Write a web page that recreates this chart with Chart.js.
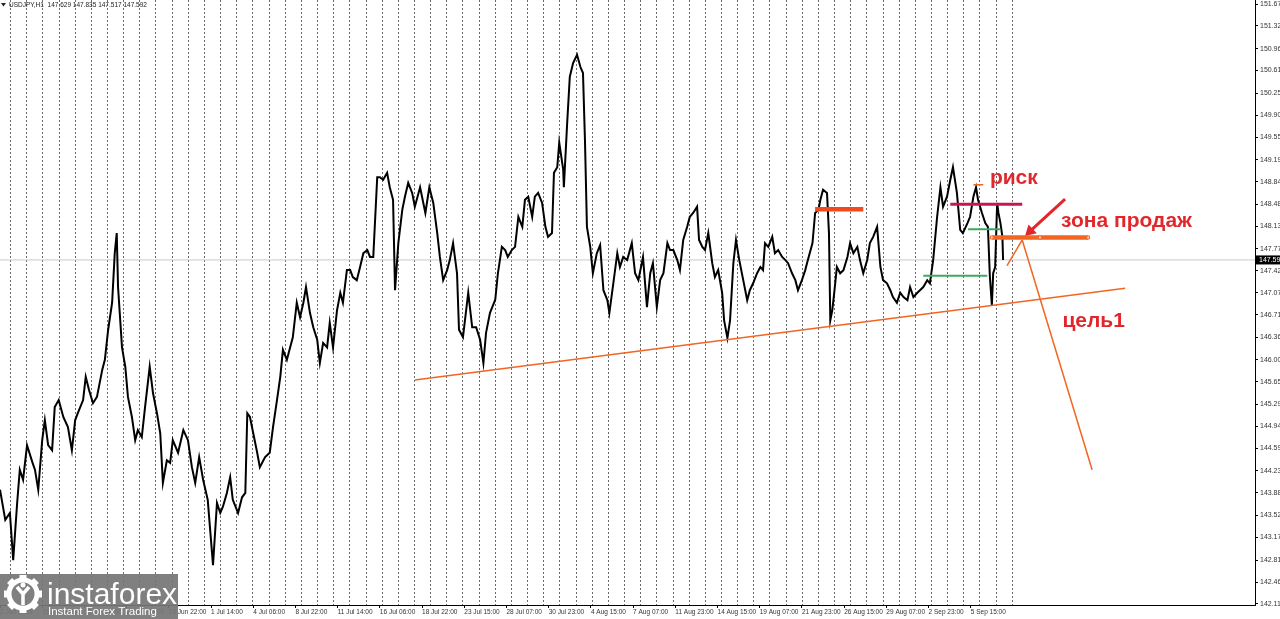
<!DOCTYPE html>
<html>
<head>
<meta charset="utf-8">
<script src="https://cdn.jsdelivr.net/npm/chart.js@4.4.1/dist/chart.umd.min.js"></script>
<style>
  html, body { margin: 0; padding: 0; background: #fff; overflow: hidden; }
  canvas { display: block; }
</style>
</head>
<body>
<canvas id="chart" width="1280" height="619"></canvas>
<script>
// USDJPY H1 — sell-zone sketch

// ── Header / quote ─────────────────────────────────────────────────────────────
const SYMBOL = 'USDJPY,H1';
const OHLC = [147.629, 147.835, 147.517, 147.592];
const LAST_PRICE = 147.592;

// ── Axes ───────────────────────────────────────────────────────────────────────
const BAR_MIN = 0, BAR_MAX = 1903;          // hourly bar index
const PRICE_MIN = 142.094, PRICE_MAX = 151.734;

const xLabels = [
  '2 Jun 2025', '16 Jun 22:00', '19 Jun 14:00', '24 Jun 06:00', '26 Jun 22:00',
  '1 Jul 14:00', '4 Jul 06:00', '8 Jul 22:00', '11 Jul 14:00', '16 Jul 06:00',
  '18 Jul 22:00', '23 Jul 15:00', '28 Jul 07:00', '30 Jul 23:00', '4 Aug 15:00',
  '7 Aug 07:00', '11 Aug 23:00', '14 Aug 15:00', '19 Aug 07:00', '21 Aug 23:00',
  '26 Aug 15:00', '29 Aug 07:00', '2 Sep 23:00', '5 Sep 15:00',
];
const BARS_PER_LABEL = 64;
const BARS_PER_DAY_GRID = 24.5;
const DAY_GRID_START = 16;
const DAY_GRID_COUNT = 63;

const yTicks = [
  151.670, 151.320, 150.960, 150.610, 150.250, 149.900, 149.550, 149.190,
  148.840, 148.480, 148.130, 147.770, 147.420, 147.070, 146.715, 146.360,
  146.000, 145.650, 145.290, 144.940, 144.590, 144.230, 143.880, 143.520,
  143.170, 142.810, 142.460, 142.110,
];

// ── Price path (bar index → close) ─────────────────────────────────────────────
const barIdx = [
  0, 8, 15, 20, 26, 30, 35, 41, 49, 53, 58, 64, 68, 73, 79, 83, 89, 96, 103, 109,
  114, 118, 126, 130, 135, 141, 147, 155, 159, 164, 170, 174, 177, 179, 185, 190, 194, 200, 205, 209,
  215, 220, 227, 232, 238, 243, 247, 253, 258, 262, 270, 278, 285, 291, 296, 302, 308, 315, 323, 329,
  334, 338, 344, 349, 353, 361, 367, 372, 375, 379, 384, 390, 394, 402, 409, 414, 420, 425, 429, 435,
  440, 444, 450, 455, 460, 464, 470, 475, 481, 485, 490, 496, 500, 505, 511, 516, 520, 526, 531, 535,
  541, 546, 551, 557, 561, 566, 572, 576, 581, 587, 591, 596, 599, 604, 610, 614, 619, 625, 629, 637,
  645, 651, 657, 663, 667, 672, 678, 682, 687, 693, 696, 702, 710, 716, 722, 728, 733, 737, 743, 751,
  755, 761, 766, 770, 776, 781, 786, 792, 796, 801, 807, 811, 816, 822, 827, 831, 837, 840, 845, 848,
  854, 855, 860, 864, 869, 875, 880, 884, 887, 890, 895, 899, 905, 910, 915, 921, 924, 930, 936, 940,
  945, 951, 958, 963, 968, 975, 981, 986, 990, 996, 1001, 1006, 1012, 1016, 1021, 1027, 1031, 1036, 1042, 1046,
  1051, 1057, 1060, 1065, 1069, 1074, 1080, 1084, 1089, 1095, 1098, 1103, 1107, 1112, 1116, 1121, 1127, 1133, 1137, 1142,
  1148, 1153, 1157, 1160, 1165, 1171, 1175, 1180, 1186, 1191, 1195, 1201, 1206, 1210, 1216, 1221, 1225, 1232, 1236, 1241,
  1244, 1248, 1254, 1257, 1259, 1262, 1265, 1269, 1274, 1279, 1285, 1289, 1294, 1300, 1304, 1309, 1315, 1319, 1324, 1330,
  1335, 1339, 1345, 1350, 1354, 1360, 1365, 1370, 1376, 1380, 1385, 1391, 1395, 1400, 1406, 1410, 1415, 1421, 1426, 1430,
  1436, 1441, 1445, 1451, 1456, 1460, 1467, 1471, 1476, 1480, 1483, 1489, 1494, 1498, 1501, 1504, 1506, 1509, 1512, 1514,
  1517, 1520, 1521,
];
const closes = [
  143.93, 143.45, 143.56, 142.81, 143.72, 144.25, 144.09, 144.64, 144.37, 144.25, 143.93, 144.72, 145.04, 144.64, 144.56, 145.25, 145.36, 145.09, 144.93, 144.56,
  145.04, 145.15, 145.36, 145.73, 145.52, 145.31, 145.41, 145.84, 146.00, 146.48, 146.91, 147.70, 148.02, 147.16, 146.20, 145.89, 145.41, 145.09, 144.72, 144.88,
  144.77, 145.25, 145.89, 145.47, 145.15, 144.83, 144.04, 144.40, 144.36, 144.72, 144.52, 144.88, 144.72, 144.29, 144.04, 144.45, 144.09, 143.77, 142.73, 143.72,
  143.56, 143.66, 143.88, 144.13, 143.77, 143.56, 143.81, 143.88, 145.15, 145.09, 144.83, 144.52, 144.29, 144.45, 144.52, 144.93, 145.36, 145.73, 146.16, 146.00,
  146.20, 146.36, 146.91, 146.68, 146.91, 147.16, 146.75, 146.52, 146.32, 145.95, 146.27, 146.20, 146.59, 146.20, 146.79, 147.07, 146.91, 147.43, 147.43, 147.32,
  147.27, 147.48, 147.70, 147.75, 147.64, 147.64, 148.91, 148.91, 148.87, 148.98, 148.75, 148.55, 147.11, 147.86, 148.39, 148.60, 148.82, 148.66, 148.44, 148.75,
  148.34, 148.75, 148.50, 148.02, 147.64, 147.27, 147.43, 147.59, 147.86, 147.38, 146.48, 146.36, 147.07, 146.52, 146.52, 146.32, 145.95, 146.43, 146.75, 146.96,
  147.38, 147.80, 147.75, 147.64, 147.75, 147.80, 148.28, 148.12, 148.55, 148.60, 148.28, 148.60, 148.66, 148.50, 148.12, 147.96, 148.02, 148.98, 149.07, 149.46,
  149.03, 148.75, 149.77, 150.51, 150.73, 150.86, 150.67, 150.57, 149.50, 148.12, 147.80, 147.38, 147.70, 147.83, 147.11, 146.95, 146.75, 147.22, 147.70, 147.48,
  147.64, 147.59, 147.86, 147.38, 147.27, 147.64, 146.84, 147.38, 147.54, 146.84, 147.27, 147.38, 147.86, 147.75, 147.75, 147.59, 147.43, 147.91, 148.12, 148.28,
  148.34, 148.44, 147.91, 147.80, 147.75, 148.02, 147.54, 147.32, 147.43, 147.07, 146.63, 146.35, 146.63, 147.54, 147.91, 147.59, 147.27, 146.95, 147.11, 147.22,
  147.38, 147.48, 147.43, 147.86, 147.80, 147.96, 147.70, 147.75, 147.64, 147.59, 147.54, 147.38, 147.27, 147.11, 147.27, 147.43, 147.59, 147.86, 148.34, 148.39,
  148.55, 148.71, 148.66, 148.02, 146.63, 146.79, 147.07, 147.48, 147.38, 147.43, 147.64, 147.86, 147.70, 147.80, 147.59, 147.38, 147.59, 147.86, 147.96, 148.12,
  147.48, 147.27, 147.22, 147.11, 147.00, 146.91, 147.07, 147.00, 146.95, 147.16, 147.00, 147.07, 147.11, 147.16, 147.27, 147.22, 147.59, 148.28, 148.75, 148.44,
  148.60, 148.87, 149.07, 148.66, 148.07, 148.02, 148.18, 148.28, 148.60, 148.75, 148.55, 148.34, 148.18, 148.12, 147.32, 146.87, 147.38, 147.48, 148.50, 148.34,
  148.18, 147.96, 147.59,
];

// ── Drawings on the chart: [bar, price] pairs ──────────────────────────────────
const supportTrend = [[629, 145.68], [1706, 147.14]];
const targetLeg    = [[1550, 147.91], [1656, 144.25]];
const pullbackLeg  = [[1527, 147.50], [1550, 147.91]];
const sellZone     = [[1504, 147.95], [1577, 147.95], [1650, 147.95]];
const prevHighZone = [[1236, 148.40], [1309, 148.40]];
const riskLevel    = [[1441, 148.48], [1550, 148.48]];
const greenUpper   = [[1468, 148.08], [1517, 148.08]];
const greenLower   = [[1400, 147.34], [1497, 147.34]];
const riskTick     = [[1476, 148.79], [1491, 148.79]];
const arrowPath    = [[1615, 148.56], [1562, 148.05]];

const noteTexts  = ['риск', 'зона продаж', 'цель1'];
const noteBars   = [1501, 1609, 1611];
const notePrices = [148.90, 148.21, 146.62];

// ── Colours ────────────────────────────────────────────────────────────────────
const ORANGE = '#f26522';
const ORANGE_RED = '#f04a1e';
const CRIMSON = '#c8174f';
const GREEN = '#3ea85f';
const NOTE_RED = '#e3262b';
const FONT = '"Liberation Sans", Arial, sans-serif';

const toXY = (pairs) => pairs.map(([x, y]) => ({ x, y }));

function drawing(pairs, color, width, extra = {}) {
  return {
    type: 'line',
    data: toXY(pairs),
    borderColor: color,
    backgroundColor: color,
    borderWidth: width,
    pointRadius: 0,
    tension: 0,
    order: 0,
    clip: false,
    ...extra,
  };
}

// scales should not push the plot in from the canvas edges
function noPadding(s) {
  s.paddingLeft = 0; s.paddingRight = 0; s.paddingTop = 0; s.paddingBottom = 0;
}

// ── Overlay: notes, header, last price tag, watermark ──────────────────────────
const overlay = {
  id: 'overlay',
  afterDraw(chart) {
    const { ctx, scales: { x, y } } = chart;
    ctx.save();

    // notes
    ctx.fillStyle = NOTE_RED;
    ctx.font = `bold 21px ${FONT}`;
    ctx.textAlign = 'left';
    ctx.textBaseline = 'middle';
    noteTexts.forEach((t, i) => {
      ctx.fillText(t, x.getPixelForValue(noteBars[i]), y.getPixelForValue(notePrices[i]));
    });

    // header
    ctx.fillStyle = '#222';
    ctx.beginPath();
    ctx.moveTo(1, 3); ctx.lineTo(6, 3); ctx.lineTo(3.5, 6.5); ctx.closePath();
    ctx.fill();
    ctx.font = `6.5px ${FONT}`;
    ctx.fillText(`${SYMBOL}  ${OHLC.map(v => v.toFixed(3)).join(' ')}`, 9, 5);

    // last price tag
    const py = y.getPixelForValue(LAST_PRICE);
    ctx.fillStyle = '#000';
    ctx.fillRect(x.right + 1, py - 4.5, 30, 9);
    ctx.fillStyle = '#fff';
    ctx.font = `7px ${FONT}`;
    ctx.fillText(LAST_PRICE.toFixed(3), x.right + 4, py);

    // watermark
    ctx.fillStyle = 'rgba(118,118,118,0.93)';
    ctx.fillRect(0, 574, 178, 45);
    ctx.fillStyle = '#fff';
    ctx.strokeStyle = '#fff';
    const cx = 23, cy = 594;
    for (let k = 0; k < 8; k++) {
      ctx.save();
      ctx.translate(cx, cy);
      ctx.rotate(k * Math.PI / 4);
      ctx.fillRect(-3.5, -19, 7, 6);
      ctx.restore();
    }
    ctx.lineWidth = 5;
    ctx.beginPath();
    ctx.arc(cx, cy, 14, 0, Math.PI * 2);
    ctx.stroke();
    ctx.lineWidth = 3.5;
    ctx.beginPath();
    ctx.moveTo(cx - 6, cy - 7); ctx.lineTo(cx, cy); ctx.lineTo(cx + 6, cy - 7);
    ctx.moveTo(cx, cy); ctx.lineTo(cx, cy + 11);
    ctx.stroke();
    ctx.beginPath();
    ctx.arc(cx, cy - 9, 2.5, 0, Math.PI * 2);
    ctx.fill();

    ctx.textBaseline = 'alphabetic';
    ctx.font = `30px ${FONT}`;
    ctx.fillText('instaforex', 47, 604);
    ctx.font = `11.5px ${FONT}`;
    ctx.fillText('Instant Forex Trading', 48, 615);

    ctx.restore();
  },
};

// ── Chart ──────────────────────────────────────────────────────────────────────
const chart = new Chart(document.getElementById('chart'), {
  type: 'line',
  data: {
    datasets: [
      {
        label: 'bid',
        data: [{ x: BAR_MIN, y: LAST_PRICE }, { x: BAR_MAX, y: LAST_PRICE }],
        borderColor: '#c9c9c9',
        borderWidth: 1,
        pointRadius: 0,
        order: 10,
      },
      {
        label: SYMBOL,
        data: barIdx.map((b, i) => ({ x: b, y: closes[i] })),
        borderColor: '#000',
        borderWidth: 2,
        pointRadius: 0,
        tension: 0,
        order: 5,
      },
      drawing(supportTrend, ORANGE, 1.5),
      drawing(targetLeg, ORANGE, 1.5),
      drawing(pullbackLeg, ORANGE, 1.5),
      drawing(prevHighZone, ORANGE_RED, 4.5),
      drawing(riskLevel, CRIMSON, 3),
      drawing(greenUpper, GREEN, 2),
      drawing(greenLower, GREEN, 2),
      drawing(riskTick, ORANGE, 1.5),
      drawing(sellZone, ORANGE, 4.5, {
        pointRadius: 2,
        pointStyle: 'rect',
        pointBackgroundColor: '#fde3d6',
        pointBorderColor: ORANGE,
        pointBorderWidth: 1,
      }),
      drawing(arrowPath, NOTE_RED, 3, {
        pointRadius: [0, 7],
        pointStyle: 'triangle',
        pointRotation: 227,
        pointBackgroundColor: NOTE_RED,
        pointBorderColor: NOTE_RED,
        pointBorderWidth: 0,
      }),
    ],
  },
  options: {
    responsive: false,
    devicePixelRatio: 1,
    animation: false,
    events: [],
    layout: { padding: 0, autoPadding: false },
    plugins: { legend: { display: false }, tooltip: { enabled: false } },
    scales: {
      x: {
        type: 'linear',
        position: 'bottom',
        min: BAR_MIN,
        max: BAR_MAX,
        afterBuildTicks: (s) => { s.ticks = xLabels.map((_, i) => ({ value: i * BARS_PER_LABEL })); },
        afterFit: (s) => { s.height = 14; noPadding(s); },
        ticks: {
          autoSkip: false,
          maxRotation: 0,
          align: 'start',
          padding: 0,
          color: '#333',
          font: { family: FONT, size: 6.5 },
          callback: (v, i) => xLabels[i],
        },
        grid: { drawOnChartArea: false, drawTicks: true, tickLength: 3, color: '#000' },
        border: { display: true, color: '#000', width: 1 },
      },
      xDays: {
        type: 'linear',
        position: 'bottom',
        min: BAR_MIN,
        max: BAR_MAX,
        afterBuildTicks: (s) => {
          s.ticks = Array.from({ length: DAY_GRID_COUNT }, (_, j) => ({ value: DAY_GRID_START + j * BARS_PER_DAY_GRID }));
        },
        afterFit: (s) => { s.height = 0; noPadding(s); },
        ticks: { display: false },
        grid: { drawTicks: false, color: '#6a6a6a', lineWidth: 1 },
        border: { display: false, dash: [2, 2] },
      },
      y: {
        type: 'linear',
        position: 'right',
        min: PRICE_MIN,
        max: PRICE_MAX,
        afterBuildTicks: (s) => { s.ticks = yTicks.map(value => ({ value })); },
        afterFit: (s) => { s.width = 25; noPadding(s); },
        ticks: {
          autoSkip: false,
          padding: 2,
          color: '#333',
          font: { family: FONT, size: 7 },
          callback: (v) => v.toFixed(3),
        },
        grid: { drawOnChartArea: false, drawTicks: true, tickLength: 3, color: '#000' },
        border: { display: true, color: '#000', width: 1 },
      },
    },
  },
  plugins: [overlay],
});
</script>
</body>
</html>
